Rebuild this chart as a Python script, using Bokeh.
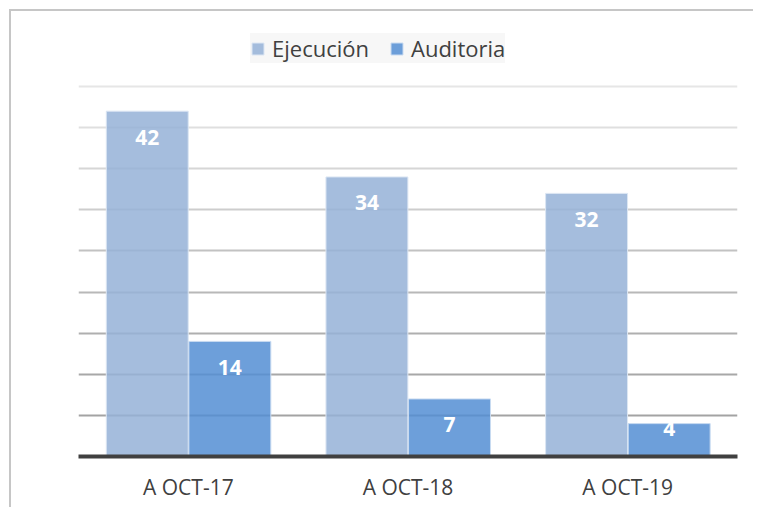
from bokeh.plotting import figure
from bokeh.models import (ColumnDataSource, FactorRange, Range1d, Grid, FixedTicker,
                          Legend, LegendItem)
from bokeh.transform import dodge
from bokeh.core.properties import value
from bokeh.embed import file_html
from bokeh.resources import INLINE

# ---- data ----
categories = ["A OCT-17", "A OCT-18", "A OCT-19"]
ejecucion = [42, 34, 32]
auditoria = [14, 7, 4]
series_names = ["Ejecución", "Auditoria"]
grid_ticks = [5, 10, 15, 20, 25, 30, 35, 40, 45]

FONT = "Open Sans"
Y_MAX = 54.0
PX_PER_UNIT = 444 / Y_MAX

border_css = ("linear-gradient(#c6c6c6,#c6c6c6) 9px 9px / 2px 100% no-repeat, "
              "linear-gradient(#c6c6c6,#c6c6c6) 9px 9px / 100% 2px no-repeat, white")

p = figure(x_range=FactorRange(*categories, range_padding=0),
           y_range=Range1d(0, Y_MAX),
           width=753, height=507, output_backend="svg", toolbar_location=None,
           min_border_left=78, min_border_right=16, min_border_top=12,
           min_border_bottom=51,
           styles={"background": border_css})
p.outline_line_color = None
p.background_fill_color = "white"
p.border_fill_alpha = 0

# gridlines with gradient colours (light at top, darker at bottom)
p.xgrid.visible = False
p.ygrid.visible = False
grid_cols = ["#a3a3a3", "#a8a8a8", "#afafaf", "#b8b8b8", "#c2c2c2",
             "#cdcdcd", "#d6d6d6", "#dfdfdf", "#e6e6e6"]
for t, c in zip(grid_ticks, grid_cols):
    g = Grid(dimension=1, ticker=FixedTicker(ticks=[t]), grid_line_color=c,
             grid_line_width=2)
    p.add_layout(g)

src = ColumnDataSource(dict(
    cat=categories, ej=ejecucion, au=auditoria,
    ej_lab=[str(v) for v in ejecucion], au_lab=[str(v) for v in auditoria],
    ej_off=[min(26, v * PX_PER_UNIT - 28) for v in ejecucion],
    au_off=[min(26, v * PX_PER_UNIT - 28) for v in auditoria],
))

w = 0.373
r1 = p.vbar(x=dodge("cat", -0.187, range=p.x_range), top="ej", width=w, source=src,
            fill_color="#95b1d7", fill_alpha=0.85, line_color="#dce6f3", line_width=1)
r2 = p.vbar(x=dodge("cat", 0.189, range=p.x_range), top="au", width=w, source=src,
            fill_color="#548ed3", fill_alpha=0.85, line_color="#c9dbf1", line_width=1)

for xo, col, off in [(-0.187, "ej", "ej_off"), (0.189, "au", "au_off")]:
    p.text(x=dodge("cat", xo, range=p.x_range), y=col, text=col + "_lab",
           y_offset=off, source=src, text_align="center", text_baseline="middle",
           text_color="white", text_font=value(FONT), text_font_style="bold",
           text_font_size="21px")

p.yaxis.visible = False
xa = p.xaxis[0]
xa.axis_line_color = "#404040"
xa.axis_line_width = 4
xa.major_tick_line_color = None
xa.minor_tick_line_color = None
xa.major_label_text_font = FONT
xa.major_label_text_font_size = "21px"
xa.major_label_text_color = "#404040"
xa.major_label_standoff = 10

legend = Legend(items=[LegendItem(label=series_names[0], renderers=[r1]),
                       LegendItem(label=series_names[1], renderers=[r2])],
                orientation="horizontal", location=(172, 393),
                glyph_width=15, glyph_height=15, label_text_font=FONT,
                label_text_font_size="22px", label_text_color="#404040",
                background_fill_color="#f7f7f7", background_fill_alpha=1,
                border_line_color=None, padding=6, spacing=20, label_standoff=7,
                margin=0)
p.add_layout(legend, "center")

open("out.html", "w").write(file_html(p, INLINE))
